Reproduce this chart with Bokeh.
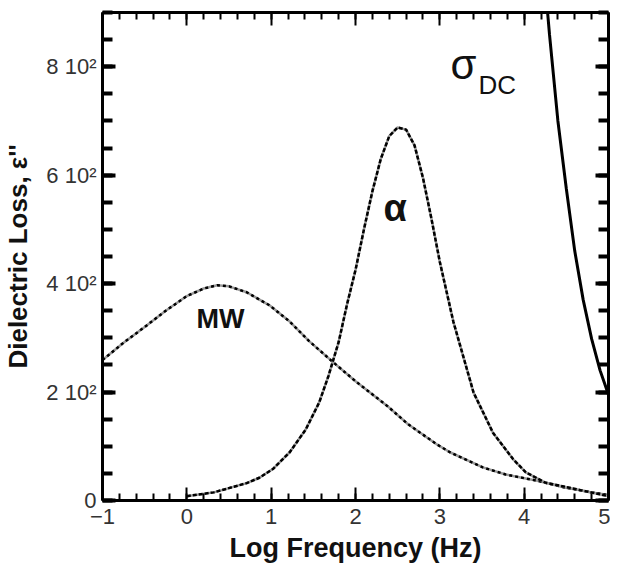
from bokeh.plotting import figure
from bokeh.models import Range1d, LinearAxis, FixedTicker, Label
from bokeh.embed import file_html
from bokeh.resources import INLINE

# ---- data ----
mw_x = [-1.0, -0.75, -0.5, -0.25, 0.0, 0.2, 0.36, 0.5, 0.71, 0.98, 1.22, 1.45,
        1.72, 2.0, 2.38, 2.62, 2.97, 3.12, 3.51, 3.78, 4.17, 4.48, 4.8, 5.0]
mw_y = [259, 291, 320, 350, 377, 391, 397, 395, 384, 360, 330, 294,
        257, 220, 174, 141, 103, 89, 61, 48, 36, 24, 15, 10]

alpha_x = [0.0, 0.32, 0.71, 0.86, 1.02, 1.22, 1.41, 1.57, 1.68, 1.8, 1.9, 2.0, 2.1,
           2.2, 2.3, 2.4, 2.5, 2.6, 2.7, 2.8, 2.9, 3.0, 3.16, 3.4, 3.63, 3.87,
           4.02, 4.25, 4.64, 5.0]
alpha_y = [8, 15, 32, 42, 58, 89, 131, 181, 230, 292, 362, 425, 500,
           570, 630, 672, 688, 684, 655, 595, 520, 440, 330, 199, 125, 76,
           52, 33, 20, 8]

dc_x = [4.25, 4.3, 4.4, 4.5, 4.6, 4.7, 4.8, 4.9, 5.0]
dc_y = [950, 860, 700, 575, 460, 370, 298, 240, 195]

x_ticks = [-1, 0, 1, 2, 3, 4, 5]
x_minor = [round(-1 + 0.2 * i, 1) for i in range(31)]
y_ticks = [0, 200, 400, 600, 800]
y_minor = list(range(0, 901, 50))
y_tick_labels = {0: "0", 200: "2 10\u00b2", 400: "4 10\u00b2", 600: "6 10\u00b2", 800: "8 10\u00b2"}

FONT = "Liberation Sans"

p = figure(width=610, height=569, x_range=Range1d(-1, 5), y_range=Range1d(0, 900),
           output_backend="svg", toolbar_location=None,
           min_border_left=100, min_border_right=2, min_border_top=12, min_border_bottom=69)
p.xgrid.visible = False
p.ygrid.visible = False
p.outline_line_color = None
p.background_fill_color = "white"

def style_x(ax, labels=True):
    ax.ticker = FixedTicker(ticks=x_ticks, minor_ticks=x_minor)
    ax.axis_line_width = 3
    ax.axis_line_color = "black"
    ax.major_tick_in = 13
    ax.major_tick_out = 0
    ax.minor_tick_in = 7
    ax.minor_tick_out = 0
    ax.major_tick_line_width = 2
    ax.minor_tick_line_width = 2
    if labels:
        ax.major_label_text_font = FONT
        ax.major_label_text_font_size = "22px"
        ax.major_label_text_color = "#333333"
        ax.major_label_standoff = 8
    else:
        ax.major_label_text_font_size = "0px"
        ax.major_label_standoff = 0

def style_y(ax, labels=True):
    ax.ticker = FixedTicker(ticks=y_ticks, minor_ticks=y_minor)
    ax.axis_line_width = 3
    ax.axis_line_color = "black"
    ax.major_tick_in = 13
    ax.major_tick_out = 0
    ax.minor_tick_in = 10
    ax.minor_tick_out = 0
    ax.major_tick_line_width = 4
    ax.minor_tick_line_width = 4
    if labels:
        ax.major_label_overrides = y_tick_labels
        ax.major_label_text_font = FONT
        ax.major_label_text_font_size = "22px"
        ax.major_label_text_color = "#333333"
        ax.major_label_standoff = 6
    else:
        ax.major_label_text_font_size = "0px"
        ax.major_label_standoff = 0

style_x(p.xaxis[0])
style_y(p.yaxis[0])
p.xaxis[0].axis_label = "Log Frequency (Hz)"
p.xaxis[0].axis_label_text_font = FONT
p.xaxis[0].axis_label_text_font_size = "27px"
p.xaxis[0].axis_label_text_font_style = "bold"
p.xaxis[0].axis_label_text_color = "#111111"
p.xaxis[0].axis_label_standoff = 6
p.yaxis[0].axis_label = "Dielectric Loss, \u03b5''"
p.yaxis[0].axis_label_text_font = FONT
p.yaxis[0].axis_label_text_font_size = "26px"
p.yaxis[0].axis_label_text_font_style = "bold"
p.yaxis[0].axis_label_text_color = "#111111"
p.yaxis[0].axis_label_standoff = 10

top = LinearAxis()
style_x(top, labels=False)
p.add_layout(top, "above")
right = LinearAxis()
style_y(right, labels=False)
p.add_layout(right, "right")

# curves: grey underlay + black dashes for the dotted look
p.line(mw_x, mw_y, line_color="#9a9a9a", line_width=2.5)
p.line(mw_x, mw_y, line_color="black", line_width=2.5, line_dash="3 3")
p.line(alpha_x, alpha_y, line_color="#9a9a9a", line_width=2.5)
p.line(alpha_x, alpha_y, line_color="black", line_width=2.5, line_dash="4 2")
p.line(dc_x, dc_y, line_color="black", line_width=3)

p.add_layout(Label(x=0.40, y=334, text="MW", text_font=FONT, text_font_size="27px",
                   text_font_style="bold", text_align="center", text_baseline="middle",
                   text_color="#111111"))
p.add_layout(Label(x=2.47, y=540, text="\u03b1", text_font=FONT, text_font_size="38px",
                   text_font_style="bold", text_align="center", text_baseline="middle",
                   text_color="#111111"))
p.add_layout(Label(x=3.28, y=805, text="\u03c3", text_font=FONT, text_font_size="42px",
                   text_align="center", text_baseline="middle", text_color="#111111"))
p.add_layout(Label(x=3.68, y=766, text="DC", text_font=FONT, text_font_size="26px",
                   text_align="center", text_baseline="middle", text_color="#111111"))

open("out.html", "w").write(file_html(p, INLINE))
